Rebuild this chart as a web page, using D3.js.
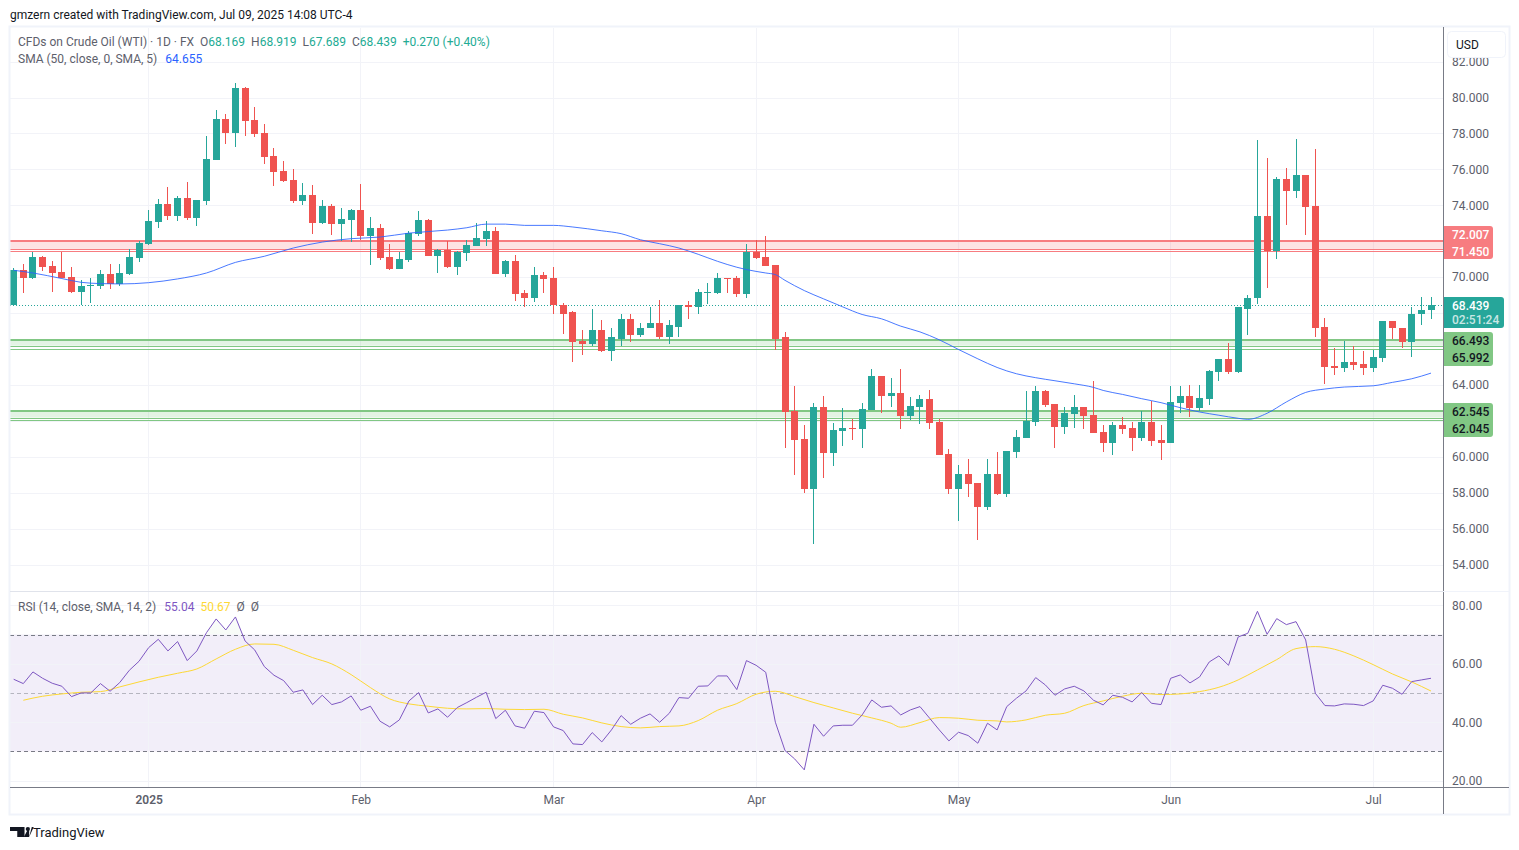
<!DOCTYPE html>
<html>
<head>
<meta charset="utf-8">
<script src="https://cdnjs.cloudflare.com/ajax/libs/d3/7.8.5/d3.min.js"></script>
<style>
  html, body { margin: 0; padding: 0; background: #fff; }
  svg { display: block; }
  text { font-family: Roboto, sans-serif; }
</style>
</head>
<body>
<div class="chart"></div>
<script>
// daily candles
const opens = [68.42,70.42,69.97,71.14,70.64,70.31,70.03,69.19,69.53,69.53,
  70.19,69.64,70.19,71.08,71.86,73.08,74.08,73.42,74.42,73.31,
  74.25,76.53,78.81,78.03,80.53,78.75,78.03,76.75,75.92,75.42,
  74.25,74.58,73.03,73.97,72.97,73.19,73.75,72.31,72.75,71.14,
  70.47,70.97,72.42,73.19,71.19,71.53,70.58,71.36,71.75,72.14,
  72.58,70.19,70.92,69.14,68.81,70.14,69.97,68.47,68.03,66.42,
  66.25,67.03,65.86,66.58,67.69,66.75,67.14,67.47,66.64,67.25,
  68.42,68.31,69.14,69.14,69.97,69.97,69.08,71.42,71.14,70.69,
  66.64,62.53,60.97,58.19,62.75,60.19,61.42,61.58,61.53,62.58,
  64.47,63.36,63.53,62.25,62.75,63.19,61.92,60.14,58.19,59.03,
  58.53,57.19,59.03,57.92,60.25,61.03,61.92,63.64,62.92,61.64,
  62.36,62.75,62.31,61.36,60.75,61.75,61.58,61.03,61.92,60.92,
  60.75,62.97,63.36,62.69,63.19,64.69,65.42,64.69,68.25,68.81,
  73.42,71.47,75.47,74.81,75.69,73.97,67.25,65.03,64.92,65.25,
  65.14,64.92,65.47,67.53,67.19,66.36,67.92,68.169];
const closes = [70.42,69.97,71.14,70.58,70.25,69.97,69.19,69.53,69.58,70.19,
  69.64,70.25,71.14,71.92,73.14,74.08,73.42,74.42,73.31,74.31,
  76.58,78.81,78.03,80.53,78.69,77.97,76.69,75.86,75.36,74.25,
  74.58,73.03,73.97,72.97,73.25,73.75,72.31,72.75,71.08,70.47,
  71.03,72.47,73.19,71.19,71.53,70.58,71.42,71.81,72.19,72.58,
  70.19,70.92,69.08,68.81,70.14,69.92,68.44,67.97,66.36,66.25,
  67.03,65.86,66.64,67.69,66.75,67.19,67.47,66.64,67.31,68.42,
  68.36,69.19,69.19,69.97,69.92,69.08,71.42,71.08,70.64,66.58,
  62.47,60.92,58.19,62.75,60.19,61.47,61.58,61.53,62.64,64.47,
  63.36,63.53,62.25,62.81,63.19,61.86,60.08,58.19,59.03,58.47,
  57.19,59.03,57.92,60.31,61.08,61.97,63.64,62.86,61.64,62.42,
  62.75,62.25,61.31,60.75,61.75,61.53,61.03,61.92,60.86,60.75,
  63.03,63.36,62.69,63.25,64.75,65.42,64.69,68.31,68.86,73.42,
  71.47,75.47,74.81,75.69,73.92,67.19,64.97,64.92,65.25,65.08,
  64.92,65.53,67.53,67.14,66.36,67.97,68.19,68.439];
const highs = [70.53,70.75,71.42,71.19,70.92,71.42,70.58,69.86,69.97,70.42,
  70.75,70.75,71.58,72.03,73.75,74.36,75.03,74.53,75.31,74.31,
  77.86,79.31,79.08,80.81,80.58,79.47,78.53,77.19,76.47,76.03,
  75.25,75.14,74.31,74.08,73.86,73.81,75.19,73.36,72.97,71.86,
  71.42,72.58,73.69,73.25,71.58,72.03,71.47,72.08,73.03,73.14,
  72.81,70.97,71.25,69.31,70.58,70.31,70.58,68.58,68.14,67.08,
  68.25,67.64,67.19,67.92,67.97,67.47,68.36,68.75,67.64,68.47,
  68.69,69.36,69.69,70.25,69.97,70.08,71.86,72.08,72.31,70.69,
  66.92,63.92,61.75,62.97,63.36,61.86,62.69,62.08,62.97,64.86,
  64.47,64.36,64.86,63.31,63.42,63.69,62.08,60.42,59.53,59.86,
  58.53,59.86,60.25,60.31,61.47,63.64,63.92,63.69,62.92,62.75,
  63.42,62.75,64.19,61.75,61.92,62.19,61.92,62.53,63.08,61.75,
  63.92,63.92,63.97,63.97,64.81,65.42,66.31,68.36,69.03,77.64,
  76.64,75.58,76.08,77.69,75.69,77.14,67.75,66.03,66.42,66.14,
  65.86,65.97,67.58,67.58,67.19,68.31,68.92,68.919];
const lows = [68.42,69.14,69.92,70.36,69.19,69.97,69.14,68.47,68.58,69.36,
  69.36,69.53,70.14,70.86,71.81,72.75,73.19,73.14,73.19,72.86,
  74.03,76.53,77.42,77.25,77.86,77.81,76.31,75.08,75.31,74.14,
  74.03,72.42,72.97,72.36,72.03,71.97,72.08,70.69,70.97,70.42,
  70.47,70.86,72.31,71.19,70.25,70.53,70.14,70.92,71.75,71.75,
  70.19,70.03,68.69,68.36,68.64,69.14,67.92,66.81,65.25,65.64,
  66.14,65.81,65.31,66.19,66.36,66.64,67.14,66.58,66.25,66.64,
  67.69,67.97,68.53,69.08,69.14,68.92,68.86,71.03,70.64,65.97,
  60.47,58.97,57.97,55.14,58.81,59.47,60.58,60.92,60.47,62.58,
  62.42,62.75,61.53,62.03,61.81,61.53,60.08,57.92,56.42,57.75,
  55.36,57.03,57.86,57.75,59.92,61.03,61.69,62.75,60.47,61.25,
  61.58,61.53,61.31,60.25,60.08,61.25,60.31,60.86,60.58,59.81,
  60.75,62.42,62.19,62.53,62.86,64.19,64.58,64.64,66.75,68.53,
  69.42,71.03,72.92,74.42,72.36,66.64,64.03,64.53,64.69,64.81,
  64.53,64.69,65.25,66.53,66.08,65.58,67.36,67.689];

// SMA 50, read at these bars
const smaBars = [0,2,5,7,9,11,14,17,20,23,26,29,32,35,38,41,45,47,49,51,53,56,58,61,63,65,67,69,71,73,75,76,78,79,80,82,84,86,88,90,92,94,96,98,100,102,104,106,108,110,112,113,115,117,119,121,123,125,127,128,130,132,134,136,138,141,143,145,147];
const smaVals = [70.38,70.23,69.92,69.71,69.64,69.62,69.69,69.90,70.23,70.82,71.16,71.62,71.95,72.14,72.23,72.45,72.62,72.75,72.95,72.95,72.88,72.88,72.79,72.58,72.42,72.08,71.86,71.62,71.27,70.88,70.55,70.42,70.23,70.14,69.82,69.25,68.79,68.34,67.92,67.68,67.27,66.95,66.51,65.97,65.45,64.97,64.62,64.40,64.23,64.06,63.86,63.69,63.47,63.23,63.01,62.73,62.49,62.31,62.14,62.08,62.42,63.05,63.58,63.77,63.88,63.95,64.14,64.34,64.655];

// RSI one value per bar
const rsiVals = [54.70,53.22,57.21,55.04,53.33,52.31,48.77,50.03,50.03,53.22,
  50.60,53.56,57.78,60.85,65.52,68.37,64.39,67.58,61.08,64.39,
  70.65,75.33,71.56,76.01,67.80,64.73,59.03,56.07,54.24,50.25,
  51.05,46.04,49.23,46.04,46.95,49.00,44.10,45.47,40.34,38.40,
  40.80,47.29,50.14,43.19,44.56,41.71,45.01,46.72,48.54,50.25,
  41.25,44.10,38.74,37.95,43.76,43.30,38.40,37.15,32.59,32.36,
  36.46,33.27,37.38,42.28,39.31,41.37,42.85,40.00,43.07,48.43,
  48.20,52.31,52.42,55.84,55.84,51.17,61.08,59.48,57.09,40.00,
  30.31,27.46,23.70,39.31,35.21,38.74,38.97,38.97,42.50,47.63,
  45.13,45.58,42.50,44.21,45.35,41.37,37.38,33.62,36.58,35.44,
  32.82,39.66,37.38,45.35,48.20,50.71,55.27,52.76,49.23,51.39,
  52.31,50.71,47.52,45.92,49.23,48.54,46.95,50.14,46.49,46.04,
  55.04,56.18,53.45,55.50,60.62,62.68,59.48,69.17,70.43,77.95,
  70.08,75.44,73.39,74.41,68.15,49.91,45.70,45.58,46.27,46.15,
  45.70,47.29,52.65,51.62,49.57,53.90,54.47,55.04];

// RSI moving average, read at these bars
const maBars = [1,3,5,7,9,11,13,15,17,19,21,23,25,27,29,31,33,35,37,39,41,43,45,47,49,51,53,55,57,59,61,63,65,67,69,71,73,75,77,79,81,83,85,87,89,91,92,94,96,98,100,102,103,105,107,109,111,113,115,117,119,121,123,125,127,129,131,133,135,137,139,141,143,145,147];
const maVals = [47.52,48.89,49.68,50.25,50.48,52.08,53.79,55.38,56.75,58.23,61.65,64.96,66.78,66.66,64.61,62.11,59.94,56.29,51.85,47.97,46.27,45.47,44.78,44.56,44.67,44.44,44.33,44.44,42.73,41.48,39.77,38.52,38.06,38.52,38.74,40.57,44.10,46.38,49.57,50.60,48.77,46.72,44.90,43.08,41.48,39.66,38.29,39.88,41.59,41.37,40.68,40.45,40.11,40.80,42.39,43.07,45.70,47.29,48.89,49.91,49.46,49.68,50.48,51.96,54.47,57.89,61.42,65.18,65.87,64.96,62.68,59.71,56.52,53.79,50.67];

const priceTicks = [54,56,58,60,62,64,66,68,70,72,74,76,78,80,82];
const rsiTicks = [20,40,60,80];
const timeBars = [14,36,56,77,98,120,141];
const timeLabels = ['2025','Feb','Mar','Apr','May','Jun','Jul'];

// zone levels: top, inner, bottom
const redZone = [72.007,71.57,71.45];
const greenZone1 = [66.493,66.18,65.992];
const greenZone2 = [62.545,62.18,62.045];
const lastPrice = 68.439;

const upCol = '#26a69a', downCol = '#ef5350', gridCol = '#f2f3f8', axisCol = '#787b86', textCol = '#5d606b';
const paneL = 10, paneR = 1443, priceTop = 28, priceBot = 591, rsiTop = 592, rsiBot = 787, frameR = 1509, frameB = 814;

const svg = d3.select('.chart').append('svg').attr('width',1519).attr('height',850);

const x = d3.scaleLinear().domain([0,147]).range([13.67,1431]);
const y = d3.scaleLinear().domain([80,54]).range([97.5,564.5]);
const yRsi = d3.scaleLinear().domain([80,20]).range([605.3,780.7]);

// clip for the two panes
const defs = svg.append('defs');
defs.append('clipPath').attr('id','pricePane').append('rect').attr('x',paneL).attr('y',priceTop).attr('width',paneR-paneL).attr('height',priceBot-priceTop);
defs.append('clipPath').attr('id','rsiPane').append('rect').attr('x',paneL).attr('y',rsiTop).attr('width',paneR-paneL).attr('height',rsiBot-rsiTop);
defs.append('clipPath').attr('id','aboveOb').append('rect').attr('x',paneL).attr('y',rsiTop).attr('width',paneR-paneL).attr('height',yRsi(70)-rsiTop);
defs.append('clipPath').attr('id','belowOs').append('rect').attr('x',paneL).attr('y',yRsi(30)).attr('width',paneR-paneL).attr('height',rsiBot-yRsi(30));
const gUp = defs.append('linearGradient').attr('id','gradUp').attr('x1',0).attr('x2',0).attr('y1',0).attr('y2',1);
gUp.append('stop').attr('offset','0%').attr('stop-color','#4caf50').attr('stop-opacity',0.02);
gUp.append('stop').attr('offset','100%').attr('stop-color','#4caf50').attr('stop-opacity',0.18);
const gDn = defs.append('linearGradient').attr('id','gradDn').attr('x1',0).attr('x2',0).attr('y1',0).attr('y2',1);
gDn.append('stop').attr('offset','0%').attr('stop-color','#f44336').attr('stop-opacity',0.18);
gDn.append('stop').attr('offset','100%').attr('stop-color','#f44336').attr('stop-opacity',0.02);

//gridlines
const priceG = svg.append('g').attr('clip-path','url(#pricePane)');
const rsiG = svg.append('g').attr('clip-path','url(#rsiPane)');
priceG.selectAll('.hgrid').data(priceTicks).join('line')
  .attr('x1',paneL).attr('x2',paneR).attr('y1',d=>Math.round(y(d))+0.5).attr('y2',d=>Math.round(y(d))+0.5)
  .attr('stroke',gridCol);
rsiG.append('rect').attr('x',paneL).attr('width',paneR-paneL).attr('y',yRsi(70)).attr('height',yRsi(30)-yRsi(70))
  .attr('fill','#7e57c2').attr('fill-opacity',0.1);
rsiG.selectAll('.hgrid').data(rsiTicks).join('line')
  .attr('x1',paneL).attr('x2',paneR).attr('y1',d=>Math.round(yRsi(d))+0.5).attr('y2',d=>Math.round(yRsi(d))+0.5)
  .attr('stroke',gridCol);
[priceG,rsiG].forEach(g=>{
  g.selectAll('.vgrid').data(timeBars).join('line').attr('class','vgrid')
    .attr('x1',d=>Math.floor(x(d))+0.5).attr('x2',d=>Math.floor(x(d))+0.5)
    .attr('y1',priceTop).attr('y2',rsiBot)
    .attr('stroke',gridCol);
});

// zones
function zone(levels, col){
  priceG.append('rect').attr('x',paneL).attr('width',paneR-paneL)
    .attr('y',y(levels[0])).attr('height',y(levels[1])-y(levels[0]))
    .attr('fill',col).attr('fill-opacity',0.22);
  levels.forEach((v,i)=>{
    const yy = Math.round(y(v))+(i==0?0:0.5);
    priceG.append('line').attr('x1',paneL).attr('x2',paneR).attr('y1',yy).attr('y2',yy)
      .attr('stroke',col).attr('stroke-width',i==0?2:1);
  });
}
zone(redZone,'#f77c80');
zone(greenZone1,'#81c784');
zone(greenZone2,'#81c784');

//last price dotted line
priceG.append('line').attr('x1',paneL).attr('x2',paneR).attr('y1',Math.round(y(lastPrice))+0.5).attr('y2',Math.round(y(lastPrice))+0.5)
  .attr('stroke',upCol).attr('stroke-dasharray','1,2');

// candles
const bars = d3.range(opens.length);
const colOf = i => closes[i]>=opens[i] ? upCol : downCol;
const candles = priceG.append('g').attr('shape-rendering','crispEdges');
candles.selectAll('.wick').data(bars).join('rect')
  .attr('x',i=>Math.floor(x(i))).attr('width',1)
  .attr('y',i=>y(highs[i])).attr('height',i=>y(lows[i])-y(highs[i]))
  .attr('fill',colOf);
candles.selectAll('.body').data(bars).join('rect')
  .attr('x',i=>Math.floor(x(i))-3).attr('width',7)
  .attr('y',i=>y(Math.max(opens[i],closes[i])))
  .attr('height',i=>Math.max(1,Math.abs(y(opens[i])-y(closes[i]))))
  .attr('fill',colOf);

// SMA
const smaLine = d3.line().x(d=>x(d[0])).y(d=>y(d[1])).curve(d3.curveMonotoneX);
priceG.append('path').datum(d3.zip(smaBars,smaVals)).attr('d',smaLine)
  .attr('fill','none').attr('stroke','#2962ff').attr('stroke-opacity',0.85).attr('stroke-width',1);

// RSI pane
[[70,'#787b86',1],[50,'#787b86',0.5],[30,'#787b86',1]].forEach(l=>{
  rsiG.append('line').attr('x1',paneL).attr('x2',paneR).attr('y1',Math.round(yRsi(l[0]))+0.5).attr('y2',Math.round(yRsi(l[0]))+0.5)
    .attr('stroke',l[1]).attr('stroke-opacity',l[2]).attr('stroke-dasharray','4,3');
});
rsiG.append('path').datum(bars)
  .attr('d',d3.area().x(i=>x(i)).y0(yRsi(70)).y1(i=>yRsi(rsiVals[i])))
  .attr('fill','url(#gradUp)').attr('clip-path','url(#aboveOb)');
rsiG.append('path').datum(bars)
  .attr('d',d3.area().x(i=>x(i)).y0(yRsi(30)).y1(i=>yRsi(rsiVals[i])))
  .attr('fill','url(#gradDn)').attr('clip-path','url(#belowOs)');
rsiG.append('path').datum(d3.zip(maBars,maVals))
  .attr('d',d3.line().x(d=>x(d[0])).y(d=>yRsi(d[1])).curve(d3.curveMonotoneX))
  .attr('fill','none').attr('stroke','#fdd835').attr('stroke-width',1);
rsiG.append('path').datum(bars)
  .attr('d',d3.line().x(i=>x(i)).y(i=>yRsi(rsiVals[i])))
  .attr('fill','none').attr('stroke','#7e57c2').attr('stroke-width',1);

//frame
svg.append('rect').attr('x',9.5).attr('y',26.5).attr('width',frameR-9).attr('height',frameB-26)
  .attr('fill','none').attr('stroke','#f0f3fa').attr('stroke-width',2);
svg.append('line').attr('x1',paneL).attr('x2',paneR).attr('y1',591.5).attr('y2',591.5).attr('stroke','#e0e3eb');
svg.append('line').attr('x1',paneL).attr('x2',frameR).attr('y1',787.5).attr('y2',787.5).attr('stroke',axisCol);
svg.append('line').attr('x1',paneR+0.5).attr('x2',paneR+0.5).attr('y1',27).attr('y2',814).attr('stroke',axisCol);
svg.append('line').attr('x1',paneR).attr('x2',frameR).attr('y1',591.5).attr('y2',591.5).attr('stroke','#f0f3fa');

// axes
const axisFont = g => g.call(s=>s.select('.domain').remove())
  .call(s=>s.selectAll('text').attr('fill',textCol).attr('font-size',12).style('font-family','Roboto, sans-serif'));
svg.append('g').attr('transform','translate(1452,0)')
  .call(d3.axisRight(y).tickValues(priceTicks).tickSize(0).tickPadding(0).tickFormat(d3.format('.3f')))
  .call(axisFont);
svg.append('g').attr('transform','translate(1452,0)')
  .call(d3.axisRight(yRsi).tickValues(rsiTicks).tickSize(0).tickPadding(0).tickFormat(d3.format('.2f')))
  .call(axisFont);
svg.append('g').attr('transform','translate(0,795)')
  .call(d3.axisBottom(x).tickValues(timeBars).tickSize(0).tickPadding(0).tickFormat((d,i)=>timeLabels[i]))
  .call(axisFont)
  .call(s=>s.selectAll('text').filter((d,i)=>i==0).attr('font-weight',600));

// USD box covers the top tick
svg.append('rect').attr('x',1447.5).attr('y',31.5).attr('width',58).attr('height',26).attr('rx',4)
  .attr('fill','#fff').attr('stroke','#f0f3fa');
svg.append('rect').attr('x',1445).attr('y',28).attr('width',63).attr('height',3).attr('fill','#fff');
svg.append('text').attr('x',1456).attr('y',49).attr('font-size',12).attr('fill','#131722').text('USD');

// price tags
function tag(yTop,h,w,col,lines){
  svg.append('path')
    .attr('d',d3.path && `M1444,${yTop}h${w-3}a3,3 0 0 1 3,3v${h-6}a3,3 0 0 1 -3,3h${-(w-3)}z`)
    .attr('fill',col);
  lines.forEach(l=>{
    svg.append('text').attr('x',1452).attr('y',l[1]).attr('font-size',12).attr('font-weight',l[3]||500)
      .attr('fill',l[2]).text(l[0]);
  });
}
tag(226,33,49,'#f77c80',[[d3.format('.3f')(redZone[0]),239,'#fff'],[d3.format('.3f')(redZone[2]),256,'#fff']]);
tag(297,31,60,upCol,[[d3.format('.3f')(lastPrice),310,'#fff'],['02:51:24',324,'rgba(255,255,255,0.75)']]);
tag(332,34,49,'#81c784',[[d3.format('.3f')(greenZone1[0]),345,'#131722'],[d3.format('.3f')(greenZone1[2]),362,'#131722']]);
tag(403,34,49,'#81c784',[[d3.format('.3f')(greenZone2[0]),416,'#131722'],[d3.format('.3f')(greenZone2[2]),433,'#131722']]);

// legends
svg.append('text').attr('x',10).attr('y',19).attr('font-size',12).attr('fill','#131722')
  .text('gmzern created with TradingView.com, Jul 09, 2025 14:08 UTC-4');

function legend(xx,yy,parts){
  const t = svg.append('text').attr('x',xx).attr('y',yy).attr('font-size',12);
  parts.forEach(p=>{
    t.append('tspan').attr('fill',p[1]).attr('dx',p[2]||0).text(p[0]);
  });
}
const ohlcCol = '#22ab94';
legend(18,46,[['CFDs on Crude Oil (WTI) · 1D · FX',textCol],['O',textCol,6],['68.169',ohlcCol],['H',textCol,6],['68.919',ohlcCol],['L',textCol,6],['67.689',ohlcCol],['C',textCol,6],['68.439',ohlcCol],['+0.270 (+0.40%)',ohlcCol,6]]);
legend(18,63,[['SMA (50, close, 0, SMA, 5)',textCol],['64.655','#2962ff',8]]);
legend(18,611,[['RSI (14, close, SMA, 14, 2)',textCol],['55.04','#7e57c2',8],['50.67','#fdd835',6],['Ø',textCol,6],['Ø',textCol,6]]);

// footer logo
svg.append('g').attr('transform','translate(10,827) scale(0.66)')
  .call(g=>{
    g.append('path').attr('d','M0 0H22V15H11V6H0Z').attr('fill','#131722');
    g.append('circle').attr('cx',27).attr('cy',3.2).attr('r',3.2).attr('fill','#131722');
    g.append('path').attr('d','M21 15L29 0H29.5H29.5H29L33 0L29 15Z M29 15L36 0H29Z').attr('fill','#131722');
  });
svg.append('text').attr('x',33).attr('y',837).attr('font-size',13).attr('fill','#131722').text('TradingView');
</script>
</body>
</html>
